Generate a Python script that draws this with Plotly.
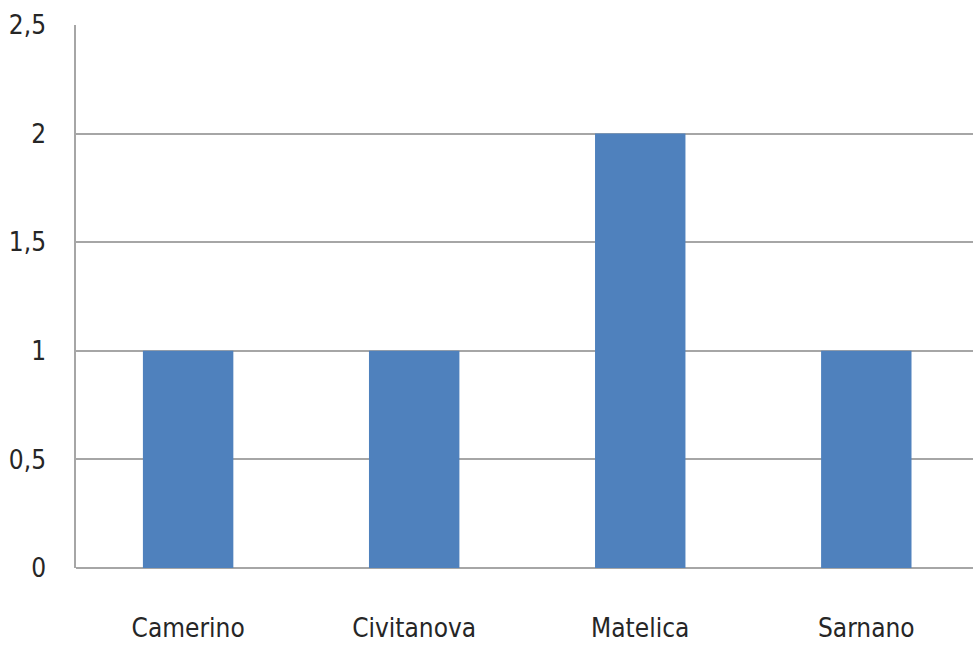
import plotly.graph_objects as go

# Values per town
towns = ["Camerino", "Civitanova", "Matelica", "Sarnano"]
counts = [1, 1, 2, 1]
y_ticks = [0, 0.5, 1, 1.5, 2, 2.5]
y_tick_labels = ["0", "0,5", "1", "1,5", "2", "2,5"]

font_family = "DejaVu Sans Condensed, Liberation Sans Narrow, Arial Narrow, sans-serif"

fig = go.Figure(
    go.Bar(
        x=towns,
        y=counts,
        width=0.4,
        marker=dict(color="#4F81BD", line=dict(width=0)),
    )
)

fig.update_layout(
    width=973,
    height=646,
    margin=dict(l=76, r=0, t=25, b=78),
    paper_bgcolor="white",
    plot_bgcolor="white",
    showlegend=False,
    font=dict(family=font_family, size=26, color="#262626"),
    bargap=0.6,
)

fig.update_xaxes(
    range=[-0.496, 3.472],
    automargin=False,
    showgrid=False,
    showline=False,
    ticks="",
    ticklabelstandoff=42,
    tickfont=dict(family=font_family, size=26, color="#262626"),
)

fig.update_yaxes(
    range=[0, 2.5],
    automargin=False,
    tickvals=y_ticks,
    ticktext=y_tick_labels,
    showgrid=True,
    gridcolor="#a6a6a6",
    gridwidth=1.5,
    zeroline=True,
    zerolinecolor="#a6a6a6",
    zerolinewidth=1.5,
    showline=True,
    linecolor="#a6a6a6",
    linewidth=1.5,
    ticks="",
    ticklabelstandoff=23,
    tickfont=dict(family=font_family, size=26, color="#262626"),
)

fig.write_html("out.html")
